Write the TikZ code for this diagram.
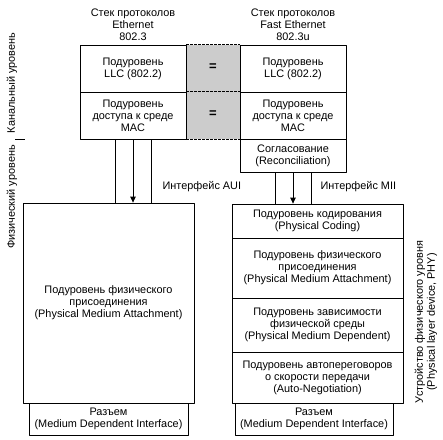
\documentclass[tikz,border=0pt]{standalone}
\usepackage{fontspec}
\setmainfont{Liberation Sans}
\usetikzlibrary{arrows.meta}

\begin{document}
\begin{tikzpicture}[x=1pt, y=-1pt, >={Triangle[length=6pt, width=5.5pt]}, line join=round, font=\fontsize{10.9}{11.9}\selectfont,
	box/.style={draw, line width=0.8pt, align=center, inner sep=1pt},
	sidelabel/.style={rotate=90, align=center},
	seam/.style={line width=0.8pt, dash pattern=on 2.5pt off 1.5pt},
	iface/.style={line width=0.8pt}]
	\useasboundingbox (0,0) rectangle (443,439);

	% Заголовки стеков
	\node[align=center] (headL) at (133,25) {Стек протоколов\\Ethernet\\802.3};
	\node[align=center] (headR) at (293,25) {Стек протоколов\\Fast Ethernet\\802.3u};

	% Серая полоса между стеками
	\fill[gray!40] (186,45) rectangle (240,139);

	% Канальный уровень
	\node[box, minimum width=106pt, minimum height=47pt] (llcL) at (133,68.5) {Подуровень\\LLC (802.2)};
	\node[box, minimum width=106pt, minimum height=47pt] (macL) at (133,115.5) {Подуровень\\доступа к среде\\MAC};
	\node[box, minimum width=106pt, minimum height=47pt] (llcR) at (293,68.5) {Подуровень\\LLC (802.2)};
	\node[box, minimum width=106pt, minimum height=47pt] (macR) at (293,115.5) {Подуровень\\доступа к среде\\MAC};
	\node[box, minimum width=106pt, minimum height=33pt] (recR) at (293,155.5) {Согласование\\(Reconciliation)};

	\foreach \n in {llcL.north east, macL.north east, macL.south east} {
		\draw[seam] (\n) -- (\n -| llcR.west);
	}
	\node[font=\bfseries\fontsize{13}{13}\selectfont] (eqLLC) at (213,67) {=};
	\node[font=\bfseries\fontsize{13}{13}\selectfont] (eqMAC) at (213,114) {=};

	% Физический уровень, Ethernet
	\node[box, minimum width=171pt, minimum height=200pt] (pmaL) at (108.5,303) {Подуровень физического\\присоединения\\(Physical Medium Attachment)};
	\node[box, minimum width=159pt, minimum height=32pt] (mdiL) at (108.5,419) {Разъем\\(Medium Dependent Interface)};

	% Физический уровень, Fast Ethernet
	\node[box, minimum width=171pt, minimum height=34pt] (codR) at (317.5,221) {Подуровень кодирования\\(Physical Coding)};
	\node[box, minimum width=171pt, minimum height=60pt] (pmaR) at (317.5,268) {Подуровень физического\\присоединения\\(Physical Medium Attachment)};
	\node[box, minimum width=171pt, minimum height=54pt] (pmdR) at (317.5,325) {Подуровень зависимости\\физической среды\\(Physical Medium Dependent)};
	\node[box, minimum width=171pt, minimum height=51pt] (anR) at (317.5,377.5) {Подуровень автопереговоров\\о скорости передачи\\(Auto-Negotiation)};
	\node[box, minimum width=158pt, minimum height=32pt] (mdiR) at (314,419) {Разъем\\(Medium Dependent Interface)};

	% Интерфейсы AUI и MII
	\foreach \s in {-18, 18} {
		\draw[iface] ([xshift=\s pt]macL.south) -- ([xshift=\s pt]macL.south |- pmaL.north);
		\draw[iface] ([xshift=\s pt]recR.south) -- ([xshift=\s pt]recR.south |- codR.north);
	}
	\draw[iface, ->] (macL.south) -- (macL.south |- pmaL.north);
	\draw[iface, ->] (recR.south) -- (recR.south |- codR.north);
	\node[anchor=west] (aui) at (159,187) {Интерфейс AUI};
	\node[anchor=west] (mii) at (317,187) {Интерфейс MII};

	% Подписи уровней
	\node[sidelabel] (linkLvl) at (12,83) {Канальный уровень};
	\node[sidelabel] (physLvl) at (12,197) {Физический уровень};
	\draw[line width=0.6pt] (15,139) -- (25,139);
	\node[sidelabel] (phy) at (426,322) {Устройство физического уровня\\(Physical layer device, PHY)};
\end{tikzpicture}
\end{document}
